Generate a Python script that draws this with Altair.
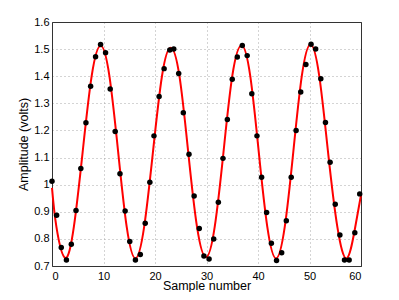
import altair as alt
import pandas as pd

# sampled points (sample position, amplitude)
sample_x = [0, 0.9, 1.8, 2.8, 3.75, 4.66, 5.6, 6.59, 7.5, 8.46, 9.43, 10.4, 11.3, 12.27,
            13.2, 14.2, 15.1, 16.2, 17.15, 18.1, 19.0, 19.8, 20.8, 21.77, 22.87, 23.64,
            24.6, 25.5, 26.6, 27.6, 28.6, 29.5, 30.5, 31.4, 32.3, 33.2, 34.05, 35.0,
            35.98, 36.95, 37.9, 38.8, 39.8, 40.7, 41.67, 42.6, 43.6, 44.6, 45.5, 46.45,
            47.4, 48.3, 49.3, 50.3, 51.2, 52.2, 53.1, 54.0, 55.0, 55.9, 56.8, 57.7, 58.8, 59.75]
sample_y = [1.0125, 0.887, 0.768, 0.722, 0.78, 0.905, 1.06, 1.228, 1.363, 1.472, 1.517, 1.487,
            1.353, 1.196, 1.04, 0.903, 0.79, 0.722, 0.742, 0.858, 1.009, 1.18, 1.325, 1.428,
            1.497, 1.50, 1.41, 1.265, 1.112, 0.958, 0.838, 0.737, 0.726, 0.80, 0.935, 1.097,
            1.24, 1.389, 1.471, 1.513, 1.476, 1.335, 1.18, 1.027, 0.897, 0.784, 0.72, 0.749,
            0.867, 1.027, 1.20, 1.342, 1.443, 1.518, 1.50, 1.391, 1.229, 1.083, 0.928, 0.814,
            0.722, 0.722, 0.823, 0.966]

# smooth red curve, read at its peaks, troughs and in-between points
curve_x = [0, 0.85, 2.55, 4.25, 5.95, 7.7, 9.45, 11.15, 12.85, 14.5, 16.2, 17.9, 19.6, 21.35,
           23.05, 24.75, 26.45, 28.15, 29.9, 31.6, 33.3, 35.0, 36.8, 38.5, 40.15, 41.8, 43.5,
           45.2, 46.85, 48.5, 50.2, 51.9, 53.6, 55.4, 57.2, 58.75, 60]
curve_y = [0.988, 0.845, 0.73, 0.845, 1.12, 1.40, 1.512, 1.40, 1.12, 0.845, 0.728, 0.845, 1.12,
           1.40, 1.505, 1.40, 1.12, 0.845, 0.732, 0.845, 1.12, 1.40, 1.513, 1.40, 1.12, 0.845,
           0.728, 0.845, 1.12, 1.40, 1.517, 1.40, 1.12, 0.845, 0.728, 0.83, 0.962]

x_ticks = [0, 10, 20, 30, 40, 50, 60]
y_ticks = [0.7, 0.8, 0.9, 1.0, 1.1, 1.2, 1.3, 1.4, 1.5, 1.6]

pts = pd.DataFrame({"x": sample_x, "y": sample_y})
crv = pd.DataFrame({"x": curve_x, "y": curve_y})

W, H = 309, 244
font = "Liberation Sans"
xscale = alt.Scale(domain=[0, 60], nice=False, zero=False)
yscale = alt.Scale(domain=[0.7, 1.6], nice=False, zero=False)

xaxis = alt.Axis(values=x_ticks, title="Sample number", labelPadding=4, titleY=23)
yaxis = alt.Axis(values=y_ticks, title="Amplitude (volts)", format="~g", labelPadding=3,
                 titleX=-25)
# top and right axes: only their domain lines, to close the box
xaxis_top = alt.Axis(orient="top", values=x_ticks, labels=False, ticks=False, grid=False,
                     title=None, domain=True)
yaxis_right = alt.Axis(orient="right", values=y_ticks, labels=False, ticks=False, grid=False,
                       title=None, domain=True)

line = alt.Chart(crv).mark_line(color="#ff0000", strokeWidth=2, interpolate="natural").encode(
    x=alt.X("x:Q", scale=xscale, axis=xaxis),
    y=alt.Y("y:Q", scale=yscale, axis=yaxis),
)
dots = alt.Chart(pts).mark_circle(color="#000000", size=30, opacity=1).encode(
    x=alt.X("x:Q", scale=xscale, axis=xaxis_top),
    y=alt.Y("y:Q", scale=yscale, axis=yaxis_right),
)

chart = (line + dots).resolve_axis(x="independent", y="independent").properties(
    width=W, height=H,
    autosize=alt.AutoSizeParams(type="none"),
    padding={"left": 44, "top": 14, "right": 20, "bottom": 26},
    background="white",
).configure_view(stroke="#333333", strokeWidth=1).configure_axis(
    grid=True, gridDash=[1, 3], gridColor="#a8a8a8", tickSize=0,
    domainColor="#333333", labelFont=font, titleFont=font, labelFontSize=11,
    titleFontSize=12.5, titleFontWeight="normal", labelColor="#000",
    titleColor="#000", labelOverlap=False, titleBaseline="alphabetic",
)

chart.save("out.html", embed_options={"renderer": "svg", "actions": False})
